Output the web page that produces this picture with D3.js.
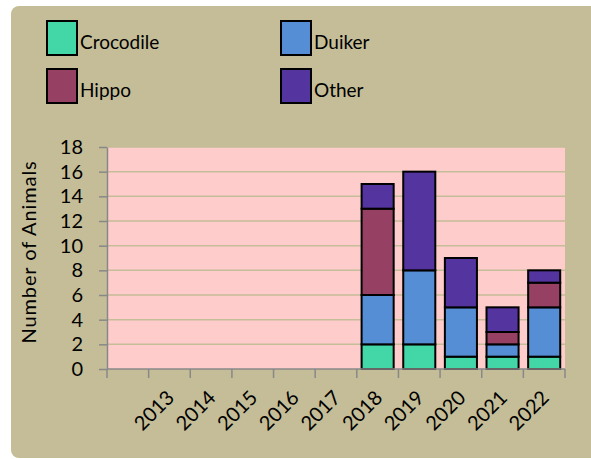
<!DOCTYPE html>
<html>
<head>
<meta charset="utf-8">
<script src="https://cdn.jsdelivr.net/npm/d3@7"></script>
<style>
  body { margin: 0; background: #ffffff; }
  svg text { font-family: Lato, "Open Sans", sans-serif; fill: #000; }
</style>
</head>
<body>
<div id="chart"></div>
<script>
// Chart data
var years = ["", "2013", "2014", "2015", "2016", "2017", "2018", "2019", "2020", "2021", "2022"];
var crocodile = [0, 0, 0, 0, 0, 0, 2, 2, 1, 1, 1];
var duiker    = [0, 0, 0, 0, 0, 0, 4, 6, 4, 1, 4];
var hippo     = [0, 0, 0, 0, 0, 0, 7, 0, 0, 1, 2];
var other     = [0, 0, 0, 0, 0, 0, 2, 8, 4, 2, 1];
var seriesNames = ["Crocodile", "Duiker", "Hippo", "Other"];
var yTicks = [0, 2, 4, 6, 8, 10, 12, 14, 16, 18];

var colors = {Crocodile: "#43d6a7", Duiker: "#558ed5", Hippo: "#964064", Other: "#54349e"};

// Dimensions and margins
var W = 591, H = 459;
var margin = {top: 147, right: 26, bottom: 90, left: 107},
    width = W - margin.left - margin.right,
    height = H - margin.top - margin.bottom;

var root = d3.select("#chart")
    .append("svg")
    .attr("width", W)
    .attr("height", H);

// Tan panel
root.append("rect")
    .attr("x", 11).attr("y", 6)
    .attr("width", W + 20).attr("height", H - 7)
    .attr("rx", 8)
    .attr("fill", "#c4bd97");

var svg = root.append("g")
    .attr("transform", "translate(" + margin.left + "," + margin.top + ")");

// Scales
var x = d3.scaleBand()
    .domain(years)
    .range([0, width])
    .paddingInner(0.23)
    .paddingOuter(0.115);

var xb = d3.scaleBand().domain(years).range([0, width]);

var y = d3.scaleLinear()
    .domain([0, 18])
    .range([height, 0]);

// Plot background
svg.append("rect")
    .attr("width", width)
    .attr("height", height)
    .attr("fill", "#ffcccc");

// Gridlines
svg.append("g")
    .selectAll("line")
    .data(yTicks.slice(1))
    .enter()
    .append("line")
    .attr("x1", 0).attr("x2", width)
    .attr("y1", function (d) { return y(d); })
    .attr("y2", function (d) { return y(d); })
    .attr("stroke", "#c4bd97")
    .attr("stroke-width", 1.5);

// Stack data
var table = years.map(function (yr, i) {
    return {year: yr, Crocodile: crocodile[i], Duiker: duiker[i], Hippo: hippo[i], Other: other[i]};
});
var stacked = d3.stack().keys(seriesNames)(table);

svg.append("g")
    .selectAll("g")
    .data(stacked)
    .enter()
    .append("g")
    .attr("fill", function (d) { return colors[d.key]; })
    .selectAll("rect")
    .data(function (d) { return d.filter(function (p) { return p[1] - p[0] > 0; }); })
    .enter()
    .append("rect")
    .attr("x", function (d) { return x(d.data.year); })
    .attr("width", x.bandwidth())
    .attr("y", function (d) { return y(d[1]); })
    .attr("height", function (d) { return y(d[0]) - y(d[1]); })
    .attr("stroke", "#000")
    .attr("stroke-width", 2);

// Y axis
var yAxis = svg.append("g")
    .call(d3.axisLeft(y).tickValues(yTicks).tickSize(8).tickSizeOuter(0).tickPadding(16));
yAxis.select(".domain").attr("stroke", "#888").attr("stroke-width", 1.5);
yAxis.selectAll(".tick line").attr("stroke", "#888").attr("stroke-width", 1.5);
yAxis.selectAll("text").style("font-size", "20px").attr("fill", "#000");

// X axis with ticks at band boundaries
var xAxisG = svg.append("g")
    .attr("transform", "translate(0," + height + ")");
xAxisG.append("line")
    .attr("x1", 0).attr("x2", width)
    .attr("stroke", "#888").attr("stroke-width", 1.5);
var bounds = years.map(function (d) { return xb(d); }).concat([width]);
xAxisG.selectAll("line.tk")
    .data(bounds)
    .enter()
    .append("line")
    .attr("class", "tk")
    .attr("x1", function (d) { return d; })
    .attr("x2", function (d) { return d; })
    .attr("y1", 0).attr("y2", 9)
    .attr("stroke", "#888").attr("stroke-width", 1.5);
xAxisG.selectAll("text")
    .data(years)
    .enter()
    .append("text")
    .attr("transform", function (d) {
        return "translate(" + (xb(d) + xb.bandwidth() / 2 + 1) + ",25) rotate(-45)";
    })
    .attr("text-anchor", "end")
    .attr("dy", "0.35em")
    .style("font-size", "20px")
    .text(function (d) { return d; });

// Y axis title
root.append("text")
    .attr("transform", "translate(36,252) rotate(-90)")
    .attr("text-anchor", "middle")
    .style("font-size", "20px")
    .style("letter-spacing", "0.9px")
    .text("Number  of Animals");

// Legend
var legendPos = [[47, 21], [281, 21], [47, 69], [281, 69]];
var legend = root.append("g")
    .selectAll("g")
    .data(seriesNames)
    .enter()
    .append("g")
    .attr("transform", function (d, i) { return "translate(" + legendPos[i][0] + "," + legendPos[i][1] + ")"; });
legend.append("rect")
    .attr("width", 30).attr("height", 34)
    .attr("fill", function (d) { return colors[d]; })
    .attr("stroke", "#000")
    .attr("stroke-width", 2);
legend.append("text")
    .attr("x", 33).attr("y", 21)
    .attr("dy", "0.35em")
    .style("font-size", "19px")
    .text(function (d) { return d; });
</script>
</body>
</html>
